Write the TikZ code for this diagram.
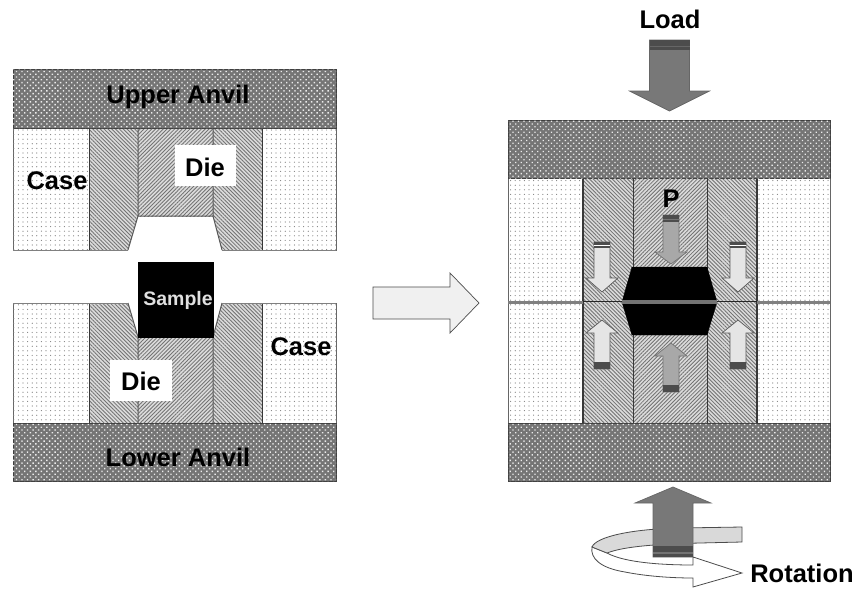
\documentclass[tikz,border=0pt]{standalone}
\usepackage{fontspec}
\setmainfont{Liberation Sans}
\usetikzlibrary{patterns.meta}
\definecolor{anvilgray}{gray}{0.46}
\definecolor{loadgray}{gray}{0.47}
\definecolor{pgray}{gray}{0.66}
\definecolor{palegray}{gray}{0.90}
\definecolor{banddark}{gray}{0.30}
\tikzset{
  anvil/.style={fill=anvilgray,postaction={pattern={Dots[distance=3.9pt,radius=.95pt,angle=45]},pattern color=white!92!black},draw=black!75,line width=.8pt},
  casebox/.style={fill=white,postaction={pattern={Dots[distance=4.6pt,radius=.6pt,angle=0]},pattern color=black!50},draw=black!60,line width=.6pt},
  dieside/.style={fill=black!14,postaction={pattern={Lines[angle=-45,distance=2.7pt,line width=.85pt]},pattern color=black!55}},
  diecentre/.style={fill=black!14,postaction={pattern={Lines[angle=45,distance=2.7pt,line width=.85pt]},pattern color=black!55}},
  partline/.style={draw=black!78,line width=1pt},
  label/.style={font=\bfseries\fontsize{25.5}{26}\selectfont,text=black,inner sep=0pt},
  whitepatch/.style={fill=white,draw=none},
  samplefill/.style={fill=black,draw=black},
  bigarrow/.style={draw=black!70,line width=.7pt,fill=palegray},
}
\newcommand{\vertarrow}[8]{%
  \draw[draw=#7,line width=.7pt,fill=#6]
    (#1-#5,#2) -- (#1-#5,#3) -- (#1-#8,#3) -- (#1,#4) -- (#1+#8,#3) -- (#1+#5,#3) -- (#1+#5,#2) -- cycle;
}
\newcommand{\capband}[5]{%
  \fill[banddark] (#1-#4,#2) rectangle (#1+#4,#3);
  \fill[#5] (#1-#4,{#2+(#3-#2)*0.55}) rectangle (#1+#4,{#2+(#3-#2)*0.72});
}
\begin{document}
\begin{tikzpicture}[x=1pt,y=-1pt]
\useasboundingbox (0,0) rectangle (857,590);
\fill[white] (0,0) rectangle (857,590);

% ---------- left, upper half
\path[casebox] (13,128) rectangle (89,250);
\path[casebox] (262,128) rectangle (336,250);
\path[dieside] (89,128) -- (138,128) -- (138,216) -- (128,250) -- (89,250) -- cycle;
\path[dieside] (213,128) -- (262,128) -- (262,250) -- (222,250) -- (213,216) -- cycle;
\path[diecentre] (138,128) rectangle (213,216);
\draw[partline] (89,128) -- (89,250) (262,128) -- (262,250);
\draw[partline,draw=black!65] (138,128) -- (138,216) (213,128) -- (213,216) -- (222,250) (138,216) -- (128,250) (138,216) -- (213,216);
\draw[draw=black!50,line width=.8pt] (13,250) -- (128,250) (222,250) -- (336,250);
\path[anvil] (13,69) rectangle (336,128);
\node[label] (ua) at (178,97) {Upper Anvil};
\node[label] (cl) at (57,181) {Case};
\path[whitepatch] (175,145) rectangle (236,186);
\node[label] (dl) at (205,167) {Die};

% ---------- left, lower half
\path[casebox] (13,303) rectangle (89,423);
\path[casebox] (262,303) rectangle (336,423);
\path[dieside] (89,303) -- (128,303) -- (138,337) -- (138,423) -- (89,423) -- cycle;
\path[dieside] (222,303) -- (262,303) -- (262,423) -- (213,423) -- (213,337) -- cycle;
\path[diecentre] (138,337) rectangle (213,423);
\draw[partline] (89,303) -- (89,423) (262,303) -- (262,423);
\draw[partline,draw=black!65] (138,337) -- (138,423) (213,337) -- (213,423) (128,303) -- (138,337) (222,303) -- (213,337);
\draw[draw=black!50,line width=.8pt] (13,303) -- (128,303) (222,303) -- (336,303);
\path[samplefill] (138,262) rectangle (213,337);
\node[label,font=\bfseries\fontsize{19.5}{20}\selectfont,text=white!88!black] (sl) at (178,300) {Sample};
\path[anvil] (13,423) rectangle (336,481);
\path[whitepatch] (110,360) rectangle (172,401);
\node[label] (dl2) at (141,381) {Die};
\node[label] (cr) at (301,347) {Case};
\node[label] (la) at (178,457) {Lower Anvil};

% ---------- centre arrow
\draw[bigarrow,fill=black!6] (373,287) -- (450,287) -- (450,273) -- (479,303) -- (450,333) -- (450,319) -- (373,319) -- cycle;

% ---------- right assembly
\path[casebox] (508,178) rectangle (583,423);
\path[casebox] (757,178) rectangle (830,423);
\path[dieside] (583,178) rectangle (633,423);
\path[dieside] (707,178) rectangle (757,423);
\path[diecentre] (633,178) rectangle (707,423);
\draw[partline,line width=1.2pt] (583,178) -- (583,423) (757,178) -- (757,423);
\draw[partline] (633,178) -- (633,423) (707,178) -- (707,423);
\draw[draw=black!50,line width=3pt] (508,302) -- (583,302) (757,302) -- (830,302);
\draw[draw=black!85,line width=1.4pt] (583,301.5) -- (622,301.5) (717,301.5) -- (757,301.5);
\path[samplefill] (632,267) -- (707,267) -- (717,302) -- (707,335) -- (632,335) -- (622,302) -- cycle;
\fill[black!55] (622,300) rectangle (717,304);
\path[anvil] (508,120) rectangle (830,178);
\path[anvil] (508,423) rectangle (830,481);

% small arrows
\vertarrow{671}{215}{252}{264}{8}{pgray}{black!55}{16}
\capband{671}{215}{222}{8}{black!55}
\vertarrow{602}{242}{278}{292}{8}{palegray}{black!65}{16}
\capband{602}{242}{248}{8}{white}
\vertarrow{738}{242}{278}{292}{8}{palegray}{black!65}{16}
\capband{738}{242}{248}{8}{white}
\vertarrow{602}{369}{333}{320}{8}{palegray}{black!65}{16}
\capband{602}{369}{362}{8}{black!70}
\vertarrow{738}{369}{333}{320}{8}{palegray}{black!65}{16}
\capband{738}{369}{362}{8}{black!70}
\vertarrow{671}{392}{356}{343}{8}{pgray}{black!55}{16}
\capband{671}{392}{385}{8}{black!70}
\node[label] (pl) at (671,199) {P};

% ---------- load arrow
\node[label] (lo) at (670,19) {Load};
\vertarrow{669.5}{40}{91}{111}{20}{loadgray}{black!60}{40}
\capband{669.5}{40}{50}{20}{black!60}

% ---------- rotation ribbon
\draw[draw=black!70,line width=.8pt,fill=white]
  (592,547) .. controls (590,558) and (600,568) .. (625,572)
  .. controls (645,576) and (670,578) .. (693,578)
  -- (693,587) -- (742,573) -- (693,557) -- (693,565)
  .. controls (665,565) and (625,563) .. (607,553) -- cycle;
\draw[draw=black!70,line width=.8pt,fill=black!15]
  (742,527) -- (742,542) -- (700,543)
  .. controls (660,544) and (625,546) .. (607,553)
  -- (592,547)
  .. controls (596,537) and (630,529) .. (680,528) -- cycle;
\vertarrow{673}{557}{503}{487}{20}{loadgray}{black!60}{38}
\capband{673}{546}{557}{20}{black!55}
\node[label] (ro) at (802,573) {Rotation};
\end{tikzpicture}
\end{document}
